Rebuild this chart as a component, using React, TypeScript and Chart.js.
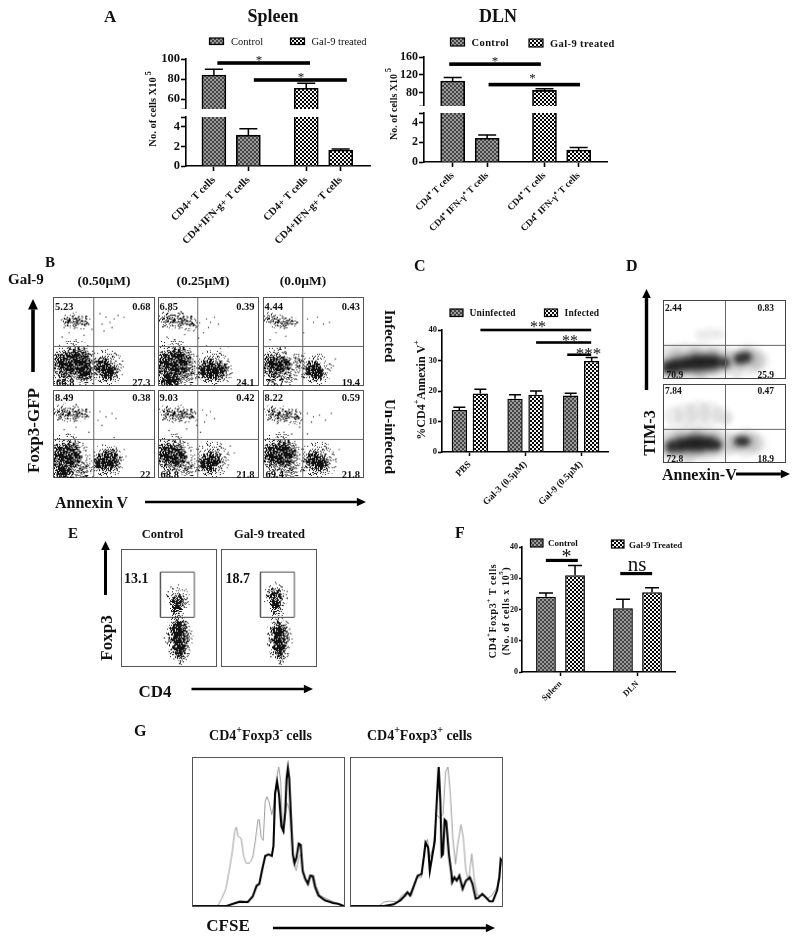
import React, { useEffect, useRef } from "react";
import { Chart, registerables } from "chart.js";

Chart.register(...registerables);

const SERIF = '"Liberation Serif"';

// ---------- Panel A, spleen ----------
const spleenLabels = ["CD4+ T cells", "CD4+IFN-g+ T cells", "CD4+ T cells", "CD4+IFN-g+ T cells"];
const spleenPos = [1, 2, 3.68, 4.68];
const spleenMean = [84, 3.15, 70.7, 1.63];
const spleenUpper = [89.7, 3.8, 75.7, 1.73];
const spleenSig = [{ from: 1.1, to: 3.79, y: 96 }, { from: 2.16, to: 4.86, y: 79 }];

// ---------- Panel A, DLN ----------
const dlnLabels = ["CD4⁺ T cells", "CD4⁺ IFN-γ⁺ T cells", "CD4⁺ T cells", "CD4⁺ IFN-γ⁺ T cells"];
const dlnPos = [1, 2, 3.66, 4.65];
const dlnMean = [106, 2.42, 85, 1.22];
const dlnUpper = [114, 2.75, 89, 1.47];
const dlnSig = [{ from: 0.9, to: 3.555, y: 144 }, { from: 2.04, to: 4.69, y: 98 }];

// ---------- Panel C ----------
const cLabels = ["PBS", "Gal-3 (0.5µM)", "Gal-9 (0.5µM)"];
const cUninfected = [13.8, 17.5, 18.5];
const cUninfectedTop = [14.7, 18.8, 19.3];
const cInfected = [19.2, 18.8, 29.8];
const cInfectedTop = [20.6, 20, 31];
const cSig = [{ from: 0.19, to: 2.18, y: 40 }, { from: 1.19, to: 2.18, y: 35.9 }, { from: 1.75, to: 2.18, y: 31.9 }];

// ---------- Panel F ----------
const fLabels = ["Spleen", "DLN"];
const fControl = [24.1, 20.4];
const fControlTop = [25.3, 23.3];
const fTreated = [31, 25.5];
const fTreatedTop = [34.1, 27];
const fSig = [{ from: -0.19, to: 0.225, y: 35.7 }, { from: 0.776, to: 1.19, y: 31.5 }];

// ---------- Panel B, populations: [annexin %, foxp3 %, spread] ----------
const b1Core = [[12, 24, 15], [24, 26, 16], [30, 18, 13], [48, 22, 10], [54, 17, 11]];
const b1Halo = [[20, 25, 24], [10, 12, 14], [34, 14, 14], [52, 20, 19], [48, 14, 12], [14, 74, 8], [22, 74, 9], [30, 72, 8]];
const b1Specks = [[52, 78, 0], [56, 72, 0], [60, 76, 0], [48, 70, 0], [64, 80, 0], [50, 62, 0], [8, 55, 0], [15, 60, 0], [22, 52, 0], [30, 57, 0], [38, 64, 0], [58, 66, 0], [70, 78, 0], [46, 82, 0], [10, 66, 0]];
const b2Core = [[8, 24, 15], [18, 24, 18], [12, 10, 12], [50, 18, 12], [60, 17, 11]];
const b2Halo = [[14, 25, 26], [55, 18, 20], [30, 14, 14], [6, 75, 9], [14, 76, 10], [22, 75, 10], [30, 72, 9], [36, 70, 6]];
const b2Specks = [[48, 76, 0], [52, 72, 0], [56, 78, 0], [60, 70, 0], [50, 66, 0], [45, 60, 0], [8, 55, 0], [16, 52, 0], [26, 58, 0], [35, 62, 0], [48, 45, 0], [70, 44, 0], [62, 42, 0], [40, 54, 0]];
const b3Core = [[10, 22, 13], [18, 24, 10], [50, 18, 10], [54, 14, 8]];
const b3Halo = [[12, 24, 20], [22, 14, 14], [52, 18, 17], [35, 25, 12], [5, 76, 7], [12, 74, 8], [20, 72, 8], [28, 72, 6]];
const b3Specks = [[44, 76, 0], [50, 72, 0], [54, 78, 0], [60, 70, 0], [28, 78, 0], [34, 72, 0], [6, 52, 0], [12, 60, 0], [22, 56, 0], [40, 60, 0], [66, 72, 0], [72, 30, 0], [70, 22, 0], [4, 80, 0]];
const b4Core = [[6, 24, 14], [14, 24, 16], [9, 10, 10], [48, 18, 10], [56, 20, 12]];
const b4Halo = [[12, 24, 24], [52, 18, 18], [28, 10, 14], [6, 74, 9], [14, 75, 10], [22, 74, 10], [30, 73, 7]];
const b4Specks = [[46, 76, 0], [52, 70, 0], [58, 74, 0], [62, 68, 0], [44, 66, 0], [10, 55, 0], [14, 50, 0], [22, 58, 0], [35, 52, 0], [60, 46, 0], [70, 32, 0], [72, 24, 0], [66, 12, 0], [48, 60, 0]];
const b5Core = [[8, 26, 14], [17, 24, 13], [50, 17, 11], [56, 20, 9]];
const b5Halo = [[14, 25, 22], [28, 12, 13], [52, 20, 20], [8, 74, 9], [16, 74, 10], [24, 73, 10], [32, 72, 8]];
const b5Specks = [[44, 78, 0], [48, 72, 0], [52, 76, 0], [56, 68, 0], [46, 64, 0], [10, 54, 0], [18, 50, 0], [28, 56, 0], [38, 60, 0], [72, 36, 0], [76, 28, 0], [70, 14, 0], [42, 52, 0]];
const b6Core = [[10, 26, 14], [20, 26, 15], [50, 20, 10], [57, 17, 10]];
const b6Halo = [[16, 26, 24], [25, 10, 13], [54, 19, 20], [8, 74, 9], [16, 72, 10], [24, 72, 10], [33, 70, 8]];
const b6Specks = [[44, 74, 0], [50, 70, 0], [56, 72, 0], [62, 66, 0], [68, 74, 0], [48, 64, 0], [14, 46, 0], [20, 52, 0], [28, 50, 0], [36, 58, 0], [76, 32, 0], [72, 20, 0], [44, 50, 0], [18, 42, 0]];

// ---------- Panel D, density: [annexin %, tim3 %, spread] ----------
const d1Ink = [[3, 14, 9], [10, 16, 10], [18, 18, 10], [26, 20, 11], [34, 20, 11], [42, 21, 10], [50, 20, 7], [62, 25, 7], [68, 27, 8]];
const d1Shade = [[5, 22, 16], [18, 22, 18], [32, 22, 18], [46, 22, 16], [58, 22, 12], [70, 24, 15], [78, 22, 10], [30, 5, 6], [10, 3, 5], [60, 3, 5]];
const d1Mist = [[30, 56, 6], [38, 57, 7], [46, 57, 6]];
const d2Ink = [[6, 20, 9], [14, 22, 10], [22, 24, 11], [30, 24, 11], [38, 24, 10], [44, 22, 6], [62, 27, 6], [67, 27, 7]];
const d2Shade = [[6, 24, 16], [20, 25, 18], [34, 25, 18], [48, 24, 14], [58, 24, 10], [68, 25, 14], [76, 24, 10], [20, 3, 6]];
const d2Mist = [[8, 60, 10], [18, 62, 12], [28, 64, 13], [38, 64, 12], [48, 60, 10], [52, 56, 7]];

// ---------- Panel E, populations: [cd4 %, foxp3 %, spread] ----------
const e1Core = [[59, 57, 8], [58, 50, 6], [61, 32, 10], [61, 24, 11], [61, 16, 9], [61, 10, 5]];
const e1Halo = [[59, 57, 13], [59, 44, 8], [60, 36, 11], [60, 24, 15], [61, 12, 11], [62, 5, 5]];
const e1Specks = [[62, 4, 0], [61, 2, 0], [63, 7, 0], [55, 6, 0], [68, 66, 0], [52, 68, 0], [60, 70, 0], [48, 20, 0], [74, 30, 0]];
const e2Core = [[57, 60, 8], [57, 53, 6], [61, 30, 9], [61, 23, 10], [61, 16, 8], [61, 11, 4]];
const e2Halo = [[57, 60, 13], [58, 46, 8], [60, 34, 11], [61, 23, 14], [61, 12, 10], [62, 5, 5]];
const e2Specks = [[62, 4, 0], [61, 2, 0], [63, 7, 0], [52, 8, 0], [57, 72, 0], [64, 68, 0], [50, 64, 0], [72, 32, 0], [49, 18, 0]];
const gateX = [41, 77, 77, 41, 41];
const gateY = [42, 42, 81, 81, 42];

// ---------- Panel G, histograms: channel, count ----------
const g1ThickCh = [218, 320, 340, 360, 385, 400, 412, 420, 428, 438, 448, 458, 463, 468, 474, 480, 487, 493, 499, 503, 507, 511, 516, 522, 527, 533, 540, 546, 552, 560, 568, 575, 583, 590, 600, 620, 645, 660, 672, 678];
const g1ThickCt = [0, 0, 7, 13, 12, 29, 62, 67, 107, 152, 157, 152, 182, 342, 377, 337, 242, 227, 287, 387, 419, 387, 277, 157, 130, 147, 189, 185, 107, 82, 67, 92, 90, 57, 32, 17, 9, 7, 2, 0];
const g1ThinCh = [218, 293, 305, 318, 330, 338, 345, 350, 355, 365, 372, 380, 390, 400, 408, 416, 420, 426, 432, 438, 443, 450, 458, 464, 472, 479, 485, 490, 495, 500, 505, 512, 518, 524, 532, 540, 546, 552, 560, 568, 575, 585, 592, 605, 625, 650, 672];
const g1ThinCt = [0, 0, 22, 52, 117, 167, 227, 239, 212, 205, 152, 130, 130, 147, 197, 262, 262, 207, 199, 317, 332, 315, 277, 307, 387, 422, 377, 237, 222, 297, 312, 287, 207, 137, 107, 147, 157, 102, 82, 72, 95, 92, 62, 32, 22, 11, 2];
const g2ThickCh = [690, 790, 820, 840, 855, 862, 870, 880, 893, 905, 913, 917, 925, 930, 935, 945, 952, 957, 962, 966, 970, 975, 980, 988, 996, 998, 1005, 1012, 1020, 1030, 1040, 1052, 1060, 1070, 1078, 1090, 1100, 1112, 1122, 1135, 1142, 1146, 1150];
const g2ThickCt = [0, 0, 5, 17, 32, 42, 32, 57, 92, 97, 157, 192, 177, 107, 137, 197, 337, 422, 317, 152, 157, 262, 257, 157, 97, 72, 87, 77, 92, 52, 77, 87, 67, 22, 25, 37, 27, 14, 14, 47, 87, 142, 137];
const g2ThinCh = [690, 775, 790, 810, 830, 845, 860, 875, 890, 905, 915, 923, 930, 940, 950, 960, 970, 978, 985, 992, 1000, 1008, 1015, 1025, 1032, 1040, 1048, 1058, 1066, 1075, 1090, 1105, 1120, 1135, 1145, 1150];
const g2ThinCt = [0, 0, 12, 15, 12, 32, 42, 32, 87, 87, 187, 202, 147, 177, 277, 267, 277, 407, 422, 347, 207, 127, 187, 247, 207, 107, 77, 159, 77, 32, 32, 22, 32, 57, 117, 137];

type Triple = number[];
type Spec = { left: number; top: number; width: number; height: number; border?: string; build: () => any };

function tile(size: number, paint: (c: CanvasRenderingContext2D) => void): CanvasPattern {
  const cv = document.createElement("canvas");
  cv.width = size;
  cv.height = size;
  const c = cv.getContext("2d")!;
  paint(c);
  return c.createPattern(cv, "repeat")!;
}

const check = (a: string, b: string) => (c: CanvasRenderingContext2D) => {
  c.fillStyle = a;
  c.fillRect(0, 0, 4, 4);
  c.fillStyle = b;
  c.fillRect(0, 0, 2, 2);
  c.fillRect(2, 2, 2, 2);
};

// Fixed grain texture for the population fills: it is a fill style only,
// the populations themselves come from the lists above.
function stipple(density: number) {
  const S = 128;
  const grain = (x: number, y: number) => {
    let h = Math.imul(x, 374761393) + Math.imul(y, 668265263);
    h = Math.imul(h ^ (h >>> 13), 1274126177);
    return ((h ^ (h >>> 16)) >>> 0) / 4294967296;
  };
  return tile(S, (c) => {
    c.fillStyle = "#111";
    for (let y = 0; y < S; y++) {
      for (let x = 0; x < S; x++) {
        if (grain(x, y) < density) c.fillRect(x, y, 1, 1);
      }
    }
  });
}

const errorBars = {
  id: "errorBars",
  afterDatasetsDraw(chart: any) {
    const { ctx, scales } = chart;
    chart.data.datasets.forEach((ds: any, i: number) => {
      if (!ds.tops) return;
      chart.getDatasetMeta(i).data.forEach((bar: any, j: number) => {
        const t = ds.tops[j];
        if (t == null || t > scales.y.max) return;
        const y = scales.y.getPixelForValue(t);
        const cap = ds.cap;
        ctx.save();
        ctx.strokeStyle = "#000";
        ctx.lineWidth = 1.5;
        ctx.beginPath();
        ctx.moveTo(bar.x, bar.y);
        ctx.lineTo(bar.x, y);
        ctx.moveTo(bar.x - cap, y);
        ctx.lineTo(bar.x + cap, y);
        ctx.stroke();
        ctx.restore();
      });
    });
  },
};

const sigBars = (list: any[], thick: number) => ({
  id: "sigBars",
  afterDatasetsDraw(chart: any) {
    const { ctx, scales } = chart;
    ctx.save();
    ctx.fillStyle = "#000";
    list.forEach((s) => {
      const a = scales.x.getPixelForValue(s.from);
      const b = scales.x.getPixelForValue(s.to);
      const y = scales.y.getPixelForValue(s.y);
      ctx.fillRect(a, y - thick / 2, b - a, thick);
    });
    ctx.restore();
  },
});

const softBlobs = {
  id: "softBlobs",
  beforeDatasetDraw(chart: any, args: any) {
    const b = chart.data.datasets[args.index].blur;
    if (b) {
      chart.ctx.save();
      chart.ctx.filter = `blur(${b}px)`;
    }
  },
  afterDatasetDraw(chart: any, args: any) {
    if (chart.data.datasets[args.index].blur) chart.ctx.restore();
  },
};

const base = { responsive: false, animation: false, devicePixelRatio: 1, events: [] as any[] };
const noPlugins = { legend: { display: false }, tooltip: { enabled: false } };

function yAxis(min: number, max: number, ticks: number[], hidden: number[], w: number, size: number, len = 5) {
  return {
    type: "linear",
    min,
    max,
    border: { display: true, color: "#000", width: 1.6 },
    grid: { drawOnChartArea: false, drawTicks: true, tickLength: len, tickWidth: 1.6, tickColor: "#000" },
    ticks: {
      autoSkip: false,
      padding: 1,
      color: "#111",
      font: { family: SERIF, weight: "bold", size },
      callback: (v: number) => (hidden.includes(v) ? "" : String(v)),
    },
    afterBuildTicks: (s: any) => {
      s.ticks = ticks.map((value) => ({ value }));
    },
    afterFit: (s: any) => {
      s.width = w;
      s.paddingTop = 0;
      s.paddingBottom = 0;
    },
  };
}

function brokenBars(o: any, ctrl: CanvasPattern, trt: CanvasPattern): Spec[] {
  const yW = 70;
  const xH = 85;
  const pad = 8;
  const sets = (keep: (v: number) => boolean) => {
    const mk = (idx: number[], fill: CanvasPattern) => ({
      data: idx.filter((i) => keep(o.mean[i])).map((i) => ({ x: o.pos[i], y: o.mean[i] })),
      tops: idx.filter((i) => keep(o.mean[i])).map((i) => o.up[i]),
      cap: 9,
      backgroundColor: fill,
      borderColor: "#000",
      borderWidth: 1.6,
      borderSkipped: "bottom",
      barThickness: 24,
      grouped: false,
    });
    return [mk([0, 1], ctrl), mk([2, 3], trt)];
  };
  const upper: Spec = {
    left: o.l - yW,
    top: o.uTop - pad,
    width: o.r - o.l + yW,
    height: o.uBot - o.uTop + pad,
    build: () => ({
      type: "bar",
      data: { datasets: sets((v) => v > 50) },
      plugins: [errorBars, sigBars(o.sig, 3.6)],
      options: {
        ...base,
        layout: { padding: { top: pad }, autoPadding: false },
        plugins: noPlugins,
        scales: {
          x: { type: "linear", display: false, offset: false, grid: { offset: false }, min: o.xMin, max: o.xMax },
          y: yAxis(50, o.uMax, o.uTicks, [50], yW, o.tick),
        },
      },
    }),
  };
  const lower: Spec = {
    left: o.l - yW,
    top: o.lTop - pad,
    width: o.r - o.l + yW,
    height: o.lBot - o.lTop + pad + xH,
    build: () => ({
      type: "bar",
      data: { datasets: sets(() => true).map((d) => ({ ...d, tops: d.tops.map((t: number) => (t > 5 ? null : t)) })) },
      plugins: [errorBars],
      options: {
        ...base,
        layout: { padding: { top: pad }, autoPadding: false },
        plugins: noPlugins,
        scales: {
          x: {
            type: "linear",
            offset: false,
            min: o.xMin,
            max: o.xMax,
            border: { display: true, color: "#000", width: 1.6 },
            grid: { offset: false, drawOnChartArea: false, drawTicks: true, tickLength: 5, tickWidth: 1.6, tickColor: "#000" },
            ticks: {
              autoSkip: false,
              minRotation: 45,
              maxRotation: 45,
              padding: 3,
              color: "#111",
              font: { family: SERIF, weight: "bold", size: o.xFont },
              callback: (v: number) => o.labels[o.pos.indexOf(v)],
            },
            afterBuildTicks: (s: any) => {
              s.ticks = o.pos.map((value: number) => ({ value }));
            },
            afterFit: (s: any) => {
              s.height = xH;
              s.paddingLeft = 0;
              s.paddingRight = 0;
            },
          },
          y: yAxis(0, 5, [0, 2, 4, 5], [5], yW, o.tick),
        },
      },
    }),
  };
  return [upper, lower];
}

function groupedBars(o: any): Spec {
  const yW = 60;
  const xH = 85;
  const pad = 10;
  return {
    left: o.l - yW,
    top: o.t - pad,
    width: o.r - o.l + yW,
    height: o.b - o.t + pad + xH,
    build: () => ({
      type: "bar",
      data: {
        labels: o.labels,
        datasets: o.sets.map((s: any) => ({
          data: s.data,
          tops: s.tops,
          cap: o.cap,
          backgroundColor: s.fill,
          borderColor: "#000",
          borderWidth: 1.5,
          borderSkipped: "bottom",
          categoryPercentage: o.cat,
          barPercentage: o.bar,
        })),
      },
      plugins: [errorBars, sigBars(o.sig, o.sigW)],
      options: {
        ...base,
        layout: { padding: { top: pad }, autoPadding: false },
        plugins: noPlugins,
        scales: {
          x: {
            border: { display: true, color: "#000", width: 1.5 },
            grid: { offset: false, drawOnChartArea: false, drawTicks: true, tickLength: 4, tickWidth: 1.5, tickColor: "#000" },
            ticks: { autoSkip: false, minRotation: 45, maxRotation: 45, padding: 3, color: "#111", font: { family: SERIF, weight: "bold", size: o.xFont } },
            afterFit: (s: any) => {
              s.height = xH;
              s.paddingLeft = 0;
              s.paddingRight = 0;
            },
          },
          y: yAxis(0, 40, [0, 10, 20, 30, 40], [], yW, o.tick, o.len),
        },
      },
    }),
  };
}

function plainAxis(min: number, max: number, q: number | null) {
  return {
    type: "linear",
    min,
    max,
    border: { display: false },
    grid: { drawTicks: false, color: q == null ? "rgba(0,0,0,0)" : "#666", lineWidth: 1, z: 1 },
    ticks: { display: false },
    afterBuildTicks: (s: any) => {
      s.ticks = q == null ? [] : [{ value: q }];
    },
    afterFit: (s: any) => {
      s.width = 0;
      s.height = 0;
      s.paddingLeft = s.paddingRight = s.paddingTop = s.paddingBottom = 0;
    },
  };
}

const toBubble = (list: Triple[], k: number) => list.map(([x, y, r]) => ({ x, y, r: r * k }));

function dotPlot(box: number[], o: any, dens: Record<string, CanvasPattern>): Spec {
  return {
    left: box[0],
    top: box[1],
    width: box[2],
    height: box[3],
    border: "1px solid #555",
    build: () => ({
      type: "scatter",
      data: {
        datasets: [
          ...[[1.1, "a"], [0.95, "b"], [0.8, "c"], [0.6, "d"]].map(([k, d]: any) => ({
            type: "bubble",
            data: toBubble(o.core, k),
            backgroundColor: dens[d],
            borderWidth: 0,
          })),
          ...[[1, "h"], [0.75, "a"], [0.45, "b"]].map(([k, d]: any) => ({
            type: "bubble",
            data: toBubble(o.halo, k),
            backgroundColor: dens[d],
            borderWidth: 0,
          })),
          {
            data: o.specks.map(([x, y]: number[]) => ({ x, y })),
            pointRadius: 0.7,
            pointBorderWidth: 0,
            backgroundColor: "#222",
            showLine: false,
          },
          ...(o.gate
            ? [{
                data: o.gate.x.map((x: number, i: number) => ({ x, y: o.gate.y[i] })),
                showLine: true,
                pointRadius: 0,
                borderColor: "#444",
                borderWidth: 1,
                backgroundColor: "transparent",
              }]
            : []),
        ],
      },
      options: {
        ...base,
        layout: { autoPadding: false },
        plugins: noPlugins,
        scales: { x: plainAxis(0, 100, o.qx ?? null), y: plainAxis(0, 100, o.qy ?? null) },
      },
    }),
  };
}

function densityPlot(box: number[], ink: Triple[], shade: Triple[], mist: Triple[]): Spec {
  const layer = (list: Triple[], k: number, color: string, blur: number) => ({
    type: "bubble",
    data: toBubble(list, k),
    backgroundColor: color,
    borderWidth: 0,
    blur,
  });
  return {
    left: box[0],
    top: box[1],
    width: box[2],
    height: box[3],
    border: "1px solid #444",
    build: () => ({
      type: "scatter",
      data: {
        datasets: [
          layer(ink, 0.6, "rgba(0,0,0,0.6)", 2.5),
          layer(ink, 1, "rgba(0,0,0,0.35)", 3),
          layer(shade, 1, "rgba(0,0,0,0.12)", 3),
          layer(mist, 1, "rgba(0,0,0,0.07)", 2.5),
        ],
      },
      plugins: [softBlobs],
      options: {
        ...base,
        layout: { autoPadding: false },
        plugins: noPlugins,
        scales: { x: plainAxis(0, 100, 51), y: plainAxis(0, 100, 43) },
      },
    }),
  };
}

const toLine = (xs: number[], ys: number[]) => xs.map((x, i) => ({ x, y: ys[i] }));

function histogram(box: number[], min: number, max: number, thick: any[], thin: any[]): Spec {
  return {
    left: box[0],
    top: box[1],
    width: box[2],
    height: box[3],
    border: "1px solid #555",
    build: () => ({
      type: "scatter",
      data: {
        datasets: [
          { data: thick, showLine: true, pointRadius: 0, borderColor: "#000", borderWidth: 2.1 },
          { data: thin, showLine: true, pointRadius: 0, borderColor: "#999", borderWidth: 1 },
        ],
      },
      options: {
        ...base,
        layout: { autoPadding: false },
        plugins: noPlugins,
        scales: { x: plainAxis(min, max, null), y: plainAxis(0, 449, null) },
      },
    }),
  };
}

function makeSpecs(): Spec[] {
  const ctrl = tile(4, check("#9a9a9a", "#444"));
  const trt = tile(4, check("#f4f4f4", "#000"));
  const dens: Record<string, CanvasPattern> = {
    h: stipple(0.1),
    a: stipple(0.22),
    b: stipple(0.42),
    c: stipple(0.65),
    d: stipple(0.85),
  };
  const specs: Spec[] = [
    ...brokenBars(
      { l: 186, r: 371, uTop: 59, uBot: 109, lTop: 117, lBot: 166, uMax: 100, uTicks: [50, 60, 80, 100], xMin: 0.19, xMax: 5.56, tick: 12.5, xFont: 10.5, labels: spleenLabels, pos: spleenPos, mean: spleenMean, up: spleenUpper, sig: spleenSig },
      ctrl, trt),
    ...brokenBars(
      { l: 424, r: 608, uTop: 57, uBot: 106, lTop: 113, lBot: 162, uMax: 160, uTicks: [50, 80, 120, 160], xMin: 0.17, xMax: 5.5, tick: 12, xFont: 9.5, labels: dlnLabels, pos: dlnPos, mean: dlnMean, up: dlnUpper, sig: dlnSig },
      ctrl, trt),
    groupedBars({ l: 442, r: 609, t: 330, b: 452, labels: cLabels, cat: 0.754, bar: 0.73, cap: 6, sigW: 2.6, xFont: 9.5, tick: 8.5, len: 4, sig: cSig,
      sets: [{ data: cUninfected, tops: cUninfectedTop, fill: ctrl }, { data: cInfected, tops: cInfectedTop, fill: trt }] }),
    groupedBars({ l: 522, r: 676, t: 547, b: 672, labels: fLabels, cat: 0.755, bar: 0.68, cap: 7, sigW: 3.2, xFont: 8.5, tick: 8, len: 3, sig: fSig,
      sets: [{ data: fControl, tops: fControlTop, fill: ctrl }, { data: fTreated, tops: fTreatedTop, fill: trt }] }),
  ];
  const flows = [
    [[53, 297, 102, 89], b1Core, b1Halo, b1Specks],
    [[158, 297, 101, 89], b2Core, b2Halo, b2Specks],
    [[263, 297, 101, 89], b3Core, b3Halo, b3Specks],
    [[53, 390, 102, 88], b4Core, b4Halo, b4Specks],
    [[158, 390, 101, 88], b5Core, b5Halo, b5Specks],
    [[263, 390, 101, 88], b6Core, b6Halo, b6Specks],
  ] as any[];
  flows.forEach(([box, core, halo, sp]) => specs.push(dotPlot(box, { core, halo, specks: sp, qx: 39.5, qy: 44 }, dens)));
  specs.push(densityPlot([663, 300, 123, 79], d1Ink, d1Shade, d1Mist));
  specs.push(densityPlot([663, 384, 123, 79], d2Ink, d2Shade, d2Mist));
  const gate = { x: gateX, y: gateY };
  specs.push(dotPlot([121, 549, 96, 118], { core: e1Core, halo: e1Halo, specks: e1Specks, gate }, dens));
  specs.push(dotPlot([221, 549, 96, 118], { core: e2Core, halo: e2Halo, specks: e2Specks, gate }, dens));
  specs.push(histogram([192, 757, 153, 150], 218, 678, toLine(g1ThickCh, g1ThickCt), toLine(g1ThinCh, g1ThinCt)));
  specs.push(histogram([350, 757, 153, 150], 690, 1150, toLine(g2ThickCh, g2ThickCt), toLine(g2ThinCh, g2ThinCt)));
  return specs;
}

function T({ x, y, s = 10, a = "start", r = 0, w = "bold", ls = 0, children }: any) {
  return (
    <text
      x={x}
      y={y}
      fontSize={s}
      fontWeight={w}
      textAnchor={a}
      dominantBaseline="central"
      letterSpacing={ls}
      transform={r ? `rotate(${r} ${x} ${y})` : undefined}
      fill="#111"
      style={{ fontFamily: SERIF }}
    >
      {children}
    </text>
  );
}

function Arrow({ x1, y1, x2, y2, w = 3, h = 8 }: any) {
  const L = Math.hypot(x2 - x1, y2 - y1);
  const ux = (x2 - x1) / L;
  const uy = (y2 - y1) / L;
  const bx = x2 - ux * h * 1.3;
  const by = y2 - uy * h * 1.3;
  const px = -uy * h * 0.62;
  const py = ux * h * 0.62;
  return (
    <g>
      <line x1={x1} y1={y1} x2={bx} y2={by} stroke="#000" strokeWidth={w} />
      <polygon points={`${x2},${y2} ${bx + px},${by + py} ${bx - px},${by - py}`} fill="#000" />
    </g>
  );
}

const Sw = ({ x, y, w, h, f }: any) => <rect x={x} y={y} width={w} height={h} fill={`url(#${f})`} stroke="#000" strokeWidth={1.2} />;
const Sup = ({ children, s }: any) => (
  <tspan baselineShift="super" fontSize={s}>{children}</tspan>
);

const quadrantText = [
  { x: 55, dx: 150.5, y1: 306.5, y2: 382, v: ["5.23", "0.68", "66.8", "27.3"] },
  { x: 159.5, dx: 254.5, y1: 306.5, y2: 382, v: ["6.85", "0.39", "68.6", "24.1"] },
  { x: 264.5, dx: 360, y1: 306.5, y2: 382, v: ["4.44", "0.43", "75.7", "19.4"] },
  { x: 55, dx: 150.5, y1: 397.5, y2: 474, v: ["8.49", "0.38", "69.2", "22"] },
  { x: 159.5, dx: 254.5, y1: 397.5, y2: 474, v: ["9.03", "0.42", "68.8", "21.8"] },
  { x: 264.5, dx: 360, y1: 397.5, y2: 474, v: ["8.22", "0.59", "69.4", "21.8"] },
];

export default function App() {
  const holder = useRef<HTMLDivElement>(null);
  useEffect(() => {
    const host = holder.current!;
    const charts: Chart[] = [];
    makeSpecs().forEach((sp) => {
      const cv = document.createElement("canvas");
      cv.width = sp.width;
      cv.height = sp.height;
      host.appendChild(cv);
      const chart = new Chart(cv, sp.build());
      cv.style.position = "absolute";
      cv.style.left = sp.left + "px";
      cv.style.top = sp.top + "px";
      if (sp.border) cv.style.border = sp.border;
      charts.push(chart);
    });
    return () => {
      charts.forEach((c) => c.destroy());
      host.innerHTML = "";
    };
  }, []);

  return (
    <div style={{ position: "absolute", left: 0, top: 0, width: 800, height: 942, background: "#fff", overflow: "hidden" }}>
      <div ref={holder} />
      <svg width={800} height={942} style={{ position: "absolute", left: 0, top: 0, pointerEvents: "none" }}>
        <defs>
          <pattern id="ctrl" width="4" height="4" patternUnits="userSpaceOnUse">
            <rect width="4" height="4" fill="#9a9a9a" />
            <rect width="2" height="2" fill="#444" />
            <rect x="2" y="2" width="2" height="2" fill="#444" />
          </pattern>
          <pattern id="trt" width="4" height="4" patternUnits="userSpaceOnUse">
            <rect width="4" height="4" fill="#f4f4f4" />
            <rect width="2" height="2" fill="#000" />
            <rect x="2" y="2" width="2" height="2" fill="#000" />
          </pattern>
        </defs>

        {/* A */}
        <T x={104} y={16} s={17}>A</T>
        <T x={273} y={16} s={18} a="middle">Spleen</T>
        <T x={498} y={16} s={18} a="middle">DLN</T>
        <Sw x={209.5} y={38} w={14} h={6.5} f="ctrl" />
        <T x={231} y={41} s={10.5} w="normal">Control</T>
        <Sw x={290.5} y={38} w={14} h={6.5} f="trt" />
        <T x={311.5} y={41} s={10.5} w="normal">Gal-9 treated</T>
        <T x={152.5} y={109} s={10.5} a="middle" r={-90}>No. of cells X10<Sup s={8}> 5</Sup></T>
        <T x={259} y={59} s={13} a="middle" w="normal">*</T>
        <T x={301} y={76.5} s={13} a="middle" w="normal">*</T>
        <Sw x={450.5} y={38} w={14} h={8} f="ctrl" />
        <T x={471.5} y={42} s={10.5} ls={0.4}>Control</T>
        <Sw x={529} y={39} w={14} h={8} f="trt" />
        <T x={550} y={43} s={10.5} ls={0.4}>Gal-9 treated</T>
        <T x={393} y={104} s={10} a="middle" r={-90}>No. of cells X10<Sup s={8}> 5</Sup></T>
        <T x={495} y={60} s={13} a="middle" w="normal">*</T>
        <T x={532.5} y={77} s={13} a="middle" w="normal">*</T>

        {/* B */}
        <T x={45} y={262} s={15}>B</T>
        <T x={8} y={279} s={15}>Gal-9</T>
        <T x={104} y={280} s={13.5} a="middle">(0.50µM)</T>
        <T x={203} y={280} s={13.5} a="middle">(0.25µM)</T>
        <T x={303} y={280} s={13.5} a="middle">(0.0µM)</T>
        <Arrow x1={33} y1={372} x2={33} y2={299} w={3.6} h={8} />
        <T x={33} y={430.5} s={17} a="middle" r={-90}>Foxp3-GFP</T>
        <T x={55} y={502} s={16}>Annexin V</T>
        <Arrow x1={145} y1={502} x2={366} y2={502} w={2.4} h={7} />
        <T x={390} y={336} s={15} a="middle" r={90}>Infected</T>
        <T x={390} y={436.5} s={15} a="middle" r={90}>Un-infected</T>
        {quadrantText.map((q, i) => (
          <g key={i}>
            <T x={q.x} y={q.y1} s={10.5}>{q.v[0]}</T>
            <T x={q.dx} y={q.y1} s={10.5} a="end">{q.v[1]}</T>
            <T x={q.x + 1} y={q.y2} s={10.5}>{q.v[2]}</T>
            <T x={q.dx} y={q.y2} s={10.5} a="end">{q.v[3]}</T>
          </g>
        ))}

        {/* C */}
        <T x={414} y={265} s={16}>C</T>
        <Sw x={450} y={309} w={13} h={7.5} f="ctrl" />
        <T x={469.5} y={312.5} s={9.5} ls={0.2}>Uninfected</T>
        <Sw x={544.5} y={309} w={13} h={7.5} f="trt" />
        <T x={564.5} y={312.5} s={9.5} ls={0.2}>Infected</T>
        <T x={420.5} y={390} s={12} a="middle" r={-90}>%CD4<Sup s={8}>+</Sup>Annexin V<Sup s={8}>+</Sup></T>
        <T x={538} y={326} s={16} a="middle" w="normal">**</T>
        <T x={570} y={340} s={16} a="middle" w="normal">**</T>
        <T x={588.5} y={353} s={17} a="middle" w="normal">***</T>

        {/* D */}
        <T x={626} y={265} s={16}>D</T>
        <T x={665} y={308} s={9.5}>2.44</T>
        <T x={774} y={308} s={9.5} a="end">0.83</T>
        <T x={666.5} y={375} s={9.5}>70.9</T>
        <T x={774} y={375} s={9.5} a="end">25.9</T>
        <T x={665} y={391} s={9.5}>7.84</T>
        <T x={774} y={391} s={9.5} a="end">0.47</T>
        <T x={666.5} y={459} s={9.5}>72.8</T>
        <T x={774} y={459} s={9.5} a="end">18.9</T>
        <Arrow x1={646.5} y1={390} x2={646.5} y2={289} w={3.4} h={7} />
        <T x={649} y={433} s={16} a="middle" r={-90}>TIM-3</T>
        <T x={662} y={474} s={16}>Annexin-V</T>
        <Arrow x1={736} y1={474} x2={790} y2={474} w={3} h={7} />

        {/* E */}
        <T x={68} y={533} s={15}>E</T>
        <T x={162.5} y={534} s={12.5} a="middle">Control</T>
        <T x={269.5} y={534} s={12.5} a="middle">Gal-9 treated</T>
        <T x={124} y={578} s={14}>13.1</T>
        <T x={225.5} y={578} s={14}>18.7</T>
        <Arrow x1={105.5} y1={595} x2={105.5} y2={541} w={3} h={7} />
        <T x={106.5} y={638} s={17} a="middle" r={-90}>Foxp3</T>
        <T x={155} y={691} s={17} a="middle">CD4</T>
        <Arrow x1={191.5} y1={689} x2={313} y2={689} w={2.4} h={7} />

        {/* F */}
        <T x={455} y={532} s={16}>F</T>
        <Sw x={530.5} y={539} w={12.5} h={8} f="ctrl" />
        <T x={548} y={543} s={9}>Control</T>
        <Sw x={611.5} y={540} w={12.5} h={8} f="trt" />
        <T x={629} y={545} s={9}>Gal-9 Treated</T>
        <T x={492.5} y={611} s={10} a="middle" r={-90} ls={0.6}>CD4<Sup s={7}>+</Sup>Foxp3<Sup s={7}>+</Sup> T cells</T>
        <T x={505} y={611} s={10} a="middle" r={-90} ls={0.6}>(No. of cells x 10<Sup s={7}>5</Sup>)</T>
        <T x={566.5} y={556} s={20} a="middle" w="normal">*</T>
        <T x={637} y={564} s={21} a="middle" w="normal">ns</T>

        {/* G */}
        <T x={134} y={730} s={16}>G</T>
        <T x={260.5} y={735} s={14} a="middle">CD4<Sup s={10}>+</Sup>Foxp3<Sup s={10}>-</Sup> cells</T>
        <T x={419.5} y={735} s={14} a="middle">CD4<Sup s={10}>+</Sup>Foxp3<Sup s={10}>+</Sup> cells</T>
        <T x={228} y={925} s={17} a="middle">CFSE</T>
        <Arrow x1={273} y1={928} x2={495} y2={928} w={2.4} h={7} />
      </svg>
    </div>
  );
}
